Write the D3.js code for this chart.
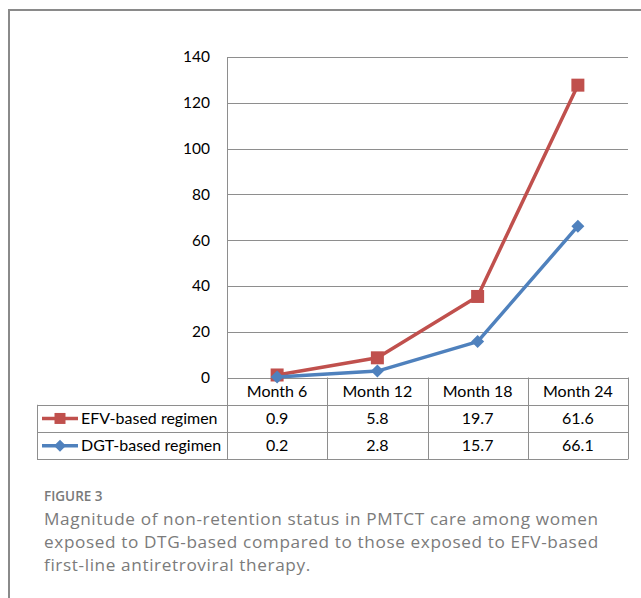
<!DOCTYPE html>
<html>
<head>
<meta charset="utf-8">
<script src="https://cdn.jsdelivr.net/npm/d3@7"></script>
<style>
  html, body { margin: 0; padding: 0; background: #fff; }
  svg { display: block; }
</style>
</head>
<body>
<svg id="chart" width="641" height="598"></svg>
<script>
// Time points and the two regimen series (values as shown in the data table)
const categories = ["Month 6", "Month 12", "Month 18", "Month 24"];
const seriesNames = ["EFV-based regimen", "DGT-based regimen"];
const efvValues = [0.9, 5.8, 19.7, 61.6];
const dgtValues = [0.2, 2.8, 15.7, 66.1];
const yTicks = [0, 20, 40, 60, 80, 100, 120, 140];
const captionLabel = "FIGURE 3";
const captionLines = [
  "Magnitude of non-retention status in PMTCT care among women",
  "exposed to DTG-based compared to those exposed to EFV-based",
  "first-line antiretroviral therapy."
];

const svg = d3.select("#chart");
const chartFont = "Lato, 'Open Sans', sans-serif";
const gridColor = "#8e8e8e";
const colors = { EFV: "#c0504d", DGT: "#4f81bd" };

// Marker shapes: square for EFV, diamond (rotated square) for DGT
const markerPath = {
  EFV: s => `M${-s / 2},${-s / 2}h${s}v${s}h${-s}Z`,
  DGT: s => `M0,${-s / 2}L${s / 2},0L0,${s / 2}L${-s / 2},0Z`
};

// Outer frame
svg.append("path")
  .attr("d", "M9,598 V10 H641")
  .attr("fill", "none")
  .attr("stroke", "#8a8a8a")
  .attr("stroke-width", 2);

// Plot area
const plot = { left: 227, right: 628, top: 57, bottom: 377.5 };

const x = d3.scaleBand().domain(categories).range([plot.left, plot.right]);
const y = d3.scaleLinear().domain([0, 140]).range([plot.bottom, plot.top]);

// Stacked line layout: DGT at the bottom, EFV stacked on top of it
const rows = categories.map((c, i) => ({ cat: c, DGT: dgtValues[i], EFV: efvValues[i] }));
const stacked = d3.stack().keys(["DGT", "EFV"])(rows);

// Gridlines
svg.append("g").selectAll("line")
  .data(yTicks)
  .join("line")
  .attr("x1", plot.left).attr("x2", plot.right)
  .attr("y1", d => Math.round(y(d)) + 0.5).attr("y2", d => Math.round(y(d)) + 0.5)
  .attr("stroke", gridColor).attr("stroke-width", 1);

// Y axis via d3.axisLeft (no tick marks, no domain path)
const yAxis = svg.append("g")
  .attr("transform", `translate(${plot.left},0)`)
  .call(d3.axisLeft(y).tickValues(yTicks).tickSize(0).tickPadding(17).tickFormat(d3.format("d")));
yAxis.select(".domain").remove();
yAxis.selectAll("text")
  .attr("font-family", chartFont)
  .attr("font-size", 15.5)
  .attr("fill", "#000");

// Left axis line runs down through the data table
svg.append("line")
  .attr("x1", plot.left + 0.5).attr("x2", plot.left + 0.5)
  .attr("y1", plot.top).attr("y2", 459)
  .attr("stroke", gridColor).attr("stroke-width", 1);

// Data table under the plot
const table = { left: 37, headerTop: 377.5, rowH: 27.3 };
const tableG = svg.append("g");
const colEdges = categories.map(c => x(c)).concat([plot.right]);

// Horizontal rules
const hRules = [
  { y: table.headerTop, x1: plot.left, x2: plot.right },
  { y: table.headerTop + table.rowH, x1: table.left, x2: plot.right },
  { y: table.headerTop + 2 * table.rowH, x1: table.left, x2: plot.right },
  { y: table.headerTop + 3 * table.rowH, x1: table.left, x2: plot.right }
];
tableG.selectAll("line.h")
  .data(hRules)
  .join("line")
  .attr("class", "h")
  .attr("x1", d => d.x1).attr("x2", d => d.x2)
  .attr("y1", d => Math.round(d.y) + 0.5).attr("y2", d => Math.round(d.y) + 0.5)
  .attr("stroke", gridColor);

// Vertical rules
const vRules = colEdges.slice(1).map(e => ({ x: e, y1: table.headerTop, y2: table.headerTop + 3 * table.rowH }))
  .concat([{ x: table.left, y1: table.headerTop + table.rowH, y2: table.headerTop + 3 * table.rowH }]);
tableG.selectAll("line.v")
  .data(vRules)
  .join("line")
  .attr("class", "v")
  .attr("x1", d => Math.round(d.x) + 0.5).attr("x2", d => Math.round(d.x) + 0.5)
  .attr("y1", d => d.y1).attr("y2", d => d.y2)
  .attr("stroke", gridColor);

// Header row: category names
tableG.selectAll("text.cat")
  .data(categories)
  .join("text")
  .attr("class", "cat")
  .attr("x", d => x(d) + x.bandwidth() / 2)
  .attr("y", table.headerTop + table.rowH / 2 + 5.5)
  .attr("text-anchor", "middle")
  .attr("font-family", chartFont).attr("font-size", 16).attr("fill", "#000")
  .text(d => d);

// Value rows
const tableRows = [
  { key: "EFV", name: seriesNames[0], values: efvValues },
  { key: "DGT", name: seriesNames[1], values: dgtValues }
];
tableRows.forEach((r, ri) => {
  const cy = table.headerTop + table.rowH * (ri + 1) + table.rowH / 2;
  tableG.selectAll(`text.val${ri}`)
    .data(r.values)
    .join("text")
    .attr("class", `val${ri}`)
    .attr("x", (d, i) => x(categories[i]) + x.bandwidth() / 2)
    .attr("y", cy + 5.5)
    .attr("text-anchor", "middle")
    .attr("font-family", chartFont).attr("font-size", 16).attr("fill", "#000")
    .text(d => d3.format(".1f")(d));
  // Legend key
  tableG.append("line")
    .attr("x1", 42).attr("x2", 78)
    .attr("y1", cy).attr("y2", cy)
    .attr("stroke", colors[r.key]).attr("stroke-width", 3.5);
  tableG.append("path")
    .attr("d", markerPath[r.key](r.key === "EFV" ? 11 : 12))
    .attr("transform", `translate(60,${cy})`)
    .attr("fill", colors[r.key]);
  tableG.append("text")
    .attr("x", 81).attr("y", cy + 5.5)
    .attr("font-family", chartFont).attr("font-size", 16).attr("fill", "#000")
    .text(r.name);
});

// Lines and markers
const line = d3.line()
  .x(d => x(d.data.cat) + x.bandwidth() / 2)
  .y(d => y(d[1]));

["EFV", "DGT"].forEach(key => {
  const layer = stacked.find(s => s.key === key);
  const g = svg.append("g");
  g.append("path")
    .datum(layer)
    .attr("d", line)
    .attr("fill", "none")
    .attr("stroke", colors[key])
    .attr("stroke-width", 3.5)
    .attr("stroke-linejoin", "round");
  g.selectAll("path.m")
    .data(layer)
    .join("path")
    .attr("class", "m")
    .attr("d", markerPath[key](13))
    .attr("transform", d => `translate(${x(d.data.cat) + x.bandwidth() / 2},${y(d[1])})`)
    .attr("fill", colors[key]);
});

// Caption
const captionFont = "'Open Sans', sans-serif";
const cap = svg.append("g").attr("font-family", captionFont);
cap.append("text")
  .attr("x", 44).attr("y", 500.5)
  .attr("font-size", 13.5).attr("font-weight", 600).attr("fill", "#7a7a7a")
  .text(captionLabel);
const capText = cap.selectAll("text.line")
  .data(captionLines)
  .join("text")
  .attr("class", "line")
  .attr("x", 44)
  .attr("y", (d, i) => 525 + i * 23)
  .attr("font-size", 17.2)
  .attr("fill", "#7b7b7b")
  .text(d => d);
// Widen letter spacing so the first line spans the caption width
const firstLine = capText.node();
const naturalW = firstLine.getComputedTextLength();
const spacing = Math.max(0, (554 - naturalW) / (captionLines[0].length - 1));
capText.attr("letter-spacing", spacing.toFixed(3));
</script>
</body>
</html>
